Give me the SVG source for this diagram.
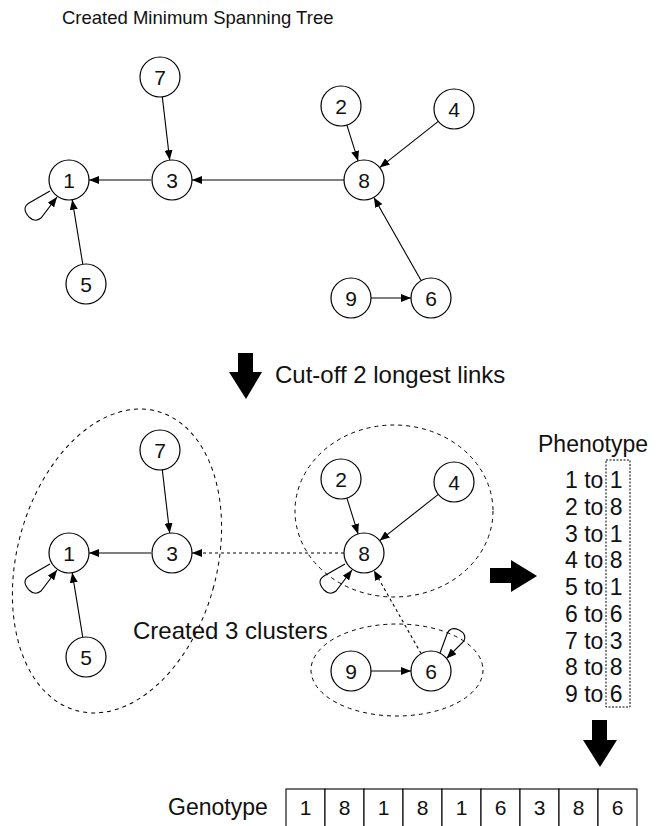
<svg xmlns="http://www.w3.org/2000/svg" width="667" height="826" viewBox="0 0 667 826">
<defs>
<marker id="ah" markerUnits="userSpaceOnUse" markerWidth="11" markerHeight="8" refX="10" refY="4" orient="auto">
<path d="M0,0 L10,4 L0,8 z" fill="#000"/>
</marker>
<style>
.n circle{fill:#fff;stroke:#000;stroke-width:1.2}
.n text, .lbl{font-family:"Liberation Sans",Arial,sans-serif;fill:#111}
.n text{font-size:21px;text-anchor:middle}
.e{fill:none;stroke:#000;stroke-width:1.1;marker-end:url(#ah)}
.d{stroke-dasharray:3,3}
.cl{fill:none;stroke:#000;stroke-width:1;stroke-dasharray:4,4}
.big{fill:#000}
.cell{fill:#fff;stroke:#000;stroke-width:1.1}
</style>
</defs>
<rect width="667" height="826" fill="#fff"/>

<text class="lbl" x="62" y="24" font-size="18.5">Created Minimum Spanning Tree</text>

<!-- top graph connectors -->
<g id="connectors-top">
<line class="e" x1="151" y1="180" x2="89" y2="180"/>
<line class="e" x1="162.3" y1="96.9" x2="169.7" y2="160.1"/>
<line class="e" x1="82.8" y1="264.3" x2="72.2" y2="199.7"/>
<line class="e" x1="344" y1="180" x2="192" y2="180"/>
<line class="e" x1="346.9" y1="125.1" x2="358.1" y2="160.9"/>
<line class="e" x1="438.3" y1="121.4" x2="379.7" y2="167.6"/>
<line class="e" x1="421.1" y1="280.6" x2="373.9" y2="197.4"/>
<line class="e" x1="371" y1="298" x2="411" y2="298"/>
<path class="e" transform="translate(69,180)" d="M-19,11 L-40,23 Q-48,28 -40,37 Q-34,43 -28,38 L-12,17"/>
</g>

<g id="t1" class="n"><circle cx="69" cy="180" r="20"/><text x="69" y="187.5">1</text></g>
<g id="t3" class="n"><circle cx="172" cy="180" r="20"/><text x="172" y="187.5">3</text></g>
<g id="t7" class="n"><circle cx="160" cy="77" r="20"/><text x="160" y="84.5">7</text></g>
<g id="t5" class="n"><circle cx="86" cy="284" r="20"/><text x="86" y="291.5">5</text></g>
<g id="t2" class="n"><circle cx="341" cy="106" r="20"/><text x="341" y="113.5">2</text></g>
<g id="t4" class="n"><circle cx="454" cy="109" r="20"/><text x="454" y="116.5">4</text></g>
<g id="t8" class="n"><circle cx="364" cy="180" r="20"/><text x="364" y="187.5">8</text></g>
<g id="t9" class="n"><circle cx="351" cy="298" r="20"/><text x="351" y="305.5">9</text></g>
<g id="t6" class="n"><circle cx="431" cy="298" r="20"/><text x="431" y="305.5">6</text></g>

<!-- cut-off arrow -->
<g id="cutoff">
<polygon class="big" points="238,353 253,353 253,372 262,372 246,399 229,372 238,372"/>
<text class="lbl" x="275" y="383" font-size="24">Cut-off 2 longest links</text>
</g>

<!-- clusters -->
<g id="clusters">
<ellipse class="cl" cx="117" cy="561" rx="100" ry="155" transform="rotate(15 117 561)"/>
<ellipse class="cl" cx="394" cy="511" rx="99" ry="86"/>
<ellipse class="cl" cx="397" cy="670" rx="86" ry="46"/>
</g>
<text class="lbl" x="133" y="639" font-size="24">Created 3 clusters</text>

<g id="connectors-bottom">
<line class="e" x1="151" y1="553" x2="89" y2="553"/>
<line class="e" x1="162.3" y1="469.9" x2="169.7" y2="533.1"/>
<line class="e" x1="82.8" y1="637.3" x2="72.2" y2="572.7"/>
<line class="e d" x1="344" y1="553" x2="192" y2="553"/>
<line class="e" x1="346.9" y1="498.1" x2="358.1" y2="533.9"/>
<line class="e" x1="438.3" y1="494.4" x2="379.7" y2="540.6"/>
<line class="e d" x1="421.1" y1="653.6" x2="373.9" y2="570.4"/>
<line class="e" x1="371" y1="671" x2="411" y2="671"/>
<path class="e" transform="translate(69,553)" d="M-19,11 L-40,23 Q-48,28 -40,37 Q-34,43 -28,38 L-12,17"/>
<path class="e" transform="translate(364,553)" d="M-19,11 L-40,23 Q-48,28 -40,37 Q-34,43 -28,38 L-12,17"/>
<path class="e" transform="translate(431,671)" d="M9,-18 L16,-37 Q19,-45 28,-41 Q36,-37 33,-30 L15.5,-12.5"/>
</g>

<g id="b1" class="n"><circle cx="69" cy="553" r="20"/><text x="69" y="560.5">1</text></g>
<g id="b3" class="n"><circle cx="172" cy="553" r="20"/><text x="172" y="560.5">3</text></g>
<g id="b7" class="n"><circle cx="160" cy="450" r="20"/><text x="160" y="457.5">7</text></g>
<g id="b5" class="n"><circle cx="86" cy="657" r="20"/><text x="86" y="664.5">5</text></g>
<g id="b2" class="n"><circle cx="341" cy="479" r="20"/><text x="341" y="486.5">2</text></g>
<g id="b4" class="n"><circle cx="454" cy="482" r="20"/><text x="454" y="489.5">4</text></g>
<g id="b8" class="n"><circle cx="364" cy="553" r="20"/><text x="364" y="560.5">8</text></g>
<g id="b9" class="n"><circle cx="351" cy="671" r="20"/><text x="351" y="678.5">9</text></g>
<g id="b6" class="n"><circle cx="431" cy="671" r="20"/><text x="431" y="678.5">6</text></g>

<!-- right arrow -->
<polygon class="big" points="490,568 511,568 511,560 537,576 511,592 511,583 490,583"/>

<!-- phenotype -->
<g id="phenotype" class="lbl" font-size="23">
<text x="538" y="452">Phenotype</text>
<rect x="606" y="460" width="24" height="247" fill="none" stroke="#000" stroke-width="1" stroke-dasharray="2,1.5"/>
<text x="565" y="488">1 to 1</text>
<text x="565" y="514.75">2 to 8</text>
<text x="565" y="541.5">3 to 1</text>
<text x="565" y="568.25">4 to 8</text>
<text x="565" y="595">5 to 1</text>
<text x="565" y="621.75">6 to 6</text>
<text x="565" y="648.5">7 to 3</text>
<text x="565" y="675.25">8 to 8</text>
<text x="565" y="702">9 to 6</text>
</g>

<!-- down arrow 2 -->
<polygon class="big" points="592,720 607,720 607,740 617,740 600,767 583,740 592,740"/>

<!-- genotype -->
<g id="genotype" class="lbl">
<text x="168" y="815" font-size="23">Genotype</text>
<g font-size="21" text-anchor="middle">
<rect class="cell" x="286" y="789" width="39" height="45"/><text x="305.5" y="815">1</text>
<rect class="cell" x="325" y="789" width="39" height="45"/><text x="344.5" y="815">8</text>
<rect class="cell" x="364" y="789" width="39" height="45"/><text x="383.5" y="815">1</text>
<rect class="cell" x="403" y="789" width="39" height="45"/><text x="422.5" y="815">8</text>
<rect class="cell" x="442" y="789" width="39" height="45"/><text x="461.5" y="815">1</text>
<rect class="cell" x="481" y="789" width="39" height="45"/><text x="500.5" y="815">6</text>
<rect class="cell" x="520" y="789" width="39" height="45"/><text x="539.5" y="815">3</text>
<rect class="cell" x="559" y="789" width="39" height="45"/><text x="578.5" y="815">8</text>
<rect class="cell" x="598" y="789" width="39" height="45"/><text x="617.5" y="815">6</text>
</g>
</g>
</svg>
